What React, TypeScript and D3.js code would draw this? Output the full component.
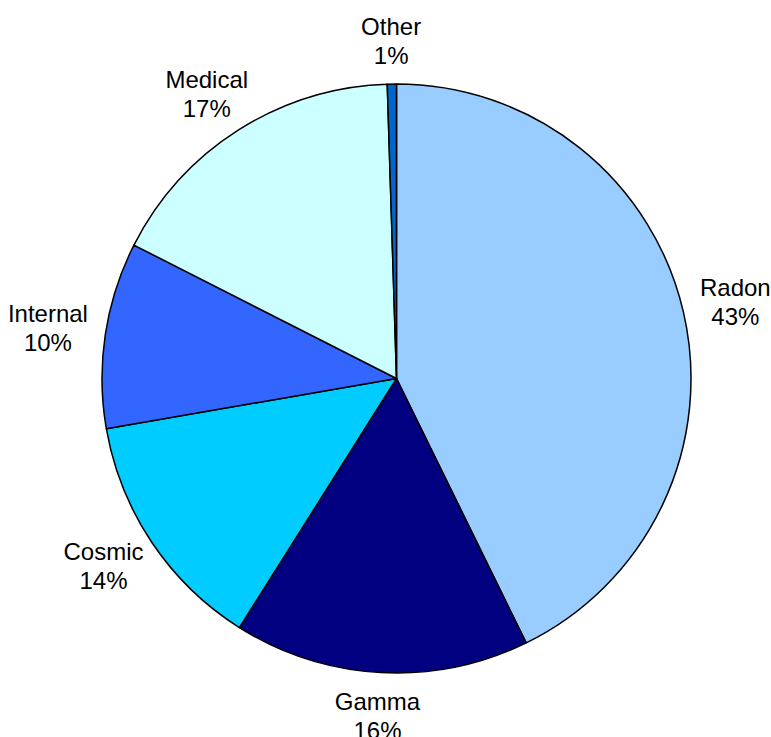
import React from "react";
import * as d3 from "d3";

const width = 771;
const height = 737;

// slices clockwise from 12 o'clock
const categories = ["Radon", "Gamma", "Cosmic", "Internal", "Medical", "Other"];
const values = [42.7, 16.2, 13.3, 10.2, 17.0, 0.5];
const percentLabels = ["43%", "16%", "14%", "10%", "17%", "1%"];
const colors = ["#99CCFF", "#000080", "#00CCFF", "#3366FF", "#CCFFFF", "#0066CC"];

const cx = 396.5;
const cy = 378.5;
const radius = 294.5;
const fontSize = 24;
const font = "'Liberation Sans', Arial, sans-serif";
const lineGap = 29;
const labelGap = 18;

type Row = { name: string; value: number; pct: string; color: string };

const rows: Row[] = categories.map((name, i) => ({
  name,
  value: values[i],
  pct: percentLabels[i],
  color: colors[i],
}));

// text width from a canvas, falls back to a rough guess
const ctx = document.createElement("canvas").getContext("2d");
function measure(s: string) {
  if (!ctx) return s.length * fontSize * 0.5;
  ctx.font = `${fontSize}px ${font}`;
  return ctx.measureText(s).width;
}

export default function App() {
  const pie = d3
    .pie<Row>()
    .sort(null)
    .value((d) => d.value)
    .startAngle(0)
    .endAngle(2 * Math.PI);

  const arc = d3.arc<d3.PieArcDatum<Row>>().innerRadius(0).outerRadius(radius);
  const slices = pie(rows);

  return (
    <svg
      width={width}
      height={height}
      style={{ position: "absolute", left: 0, top: 0, background: "#fff" }}
      fontFamily={font}
    >
      <g transform={`translate(${cx},${cy})`}>
        {slices.map((s) => (
          <path
            key={s.data.name}
            d={arc(s) || ""}
            fill={s.data.color}
            stroke="#000"
            strokeWidth={1.5}
            strokeLinejoin="round"
          />
        ))}
        {slices.map((s) => {
          const mid = (s.startAngle + s.endAngle) / 2;
          const sn = Math.sin(mid);
          const cs = Math.cos(mid);
          const halfW = Math.max(measure(s.data.name), measure(s.data.pct)) / 2;
          const halfH = 25;
          const x = (radius + labelGap) * sn + halfW * sn;
          const y = -(radius + labelGap) * cs - halfH * cs;
          return (
            <text
              key={"l" + s.data.name}
              x={x}
              y={y - 6}
              textAnchor="middle"
              fontSize={fontSize}
              fill="#000"
            >
              <tspan x={x}>{s.data.name}</tspan>
              <tspan x={x} dy={lineGap}>
                {s.data.pct}
              </tspan>
            </text>
          );
        })}
      </g>
    </svg>
  );
}
